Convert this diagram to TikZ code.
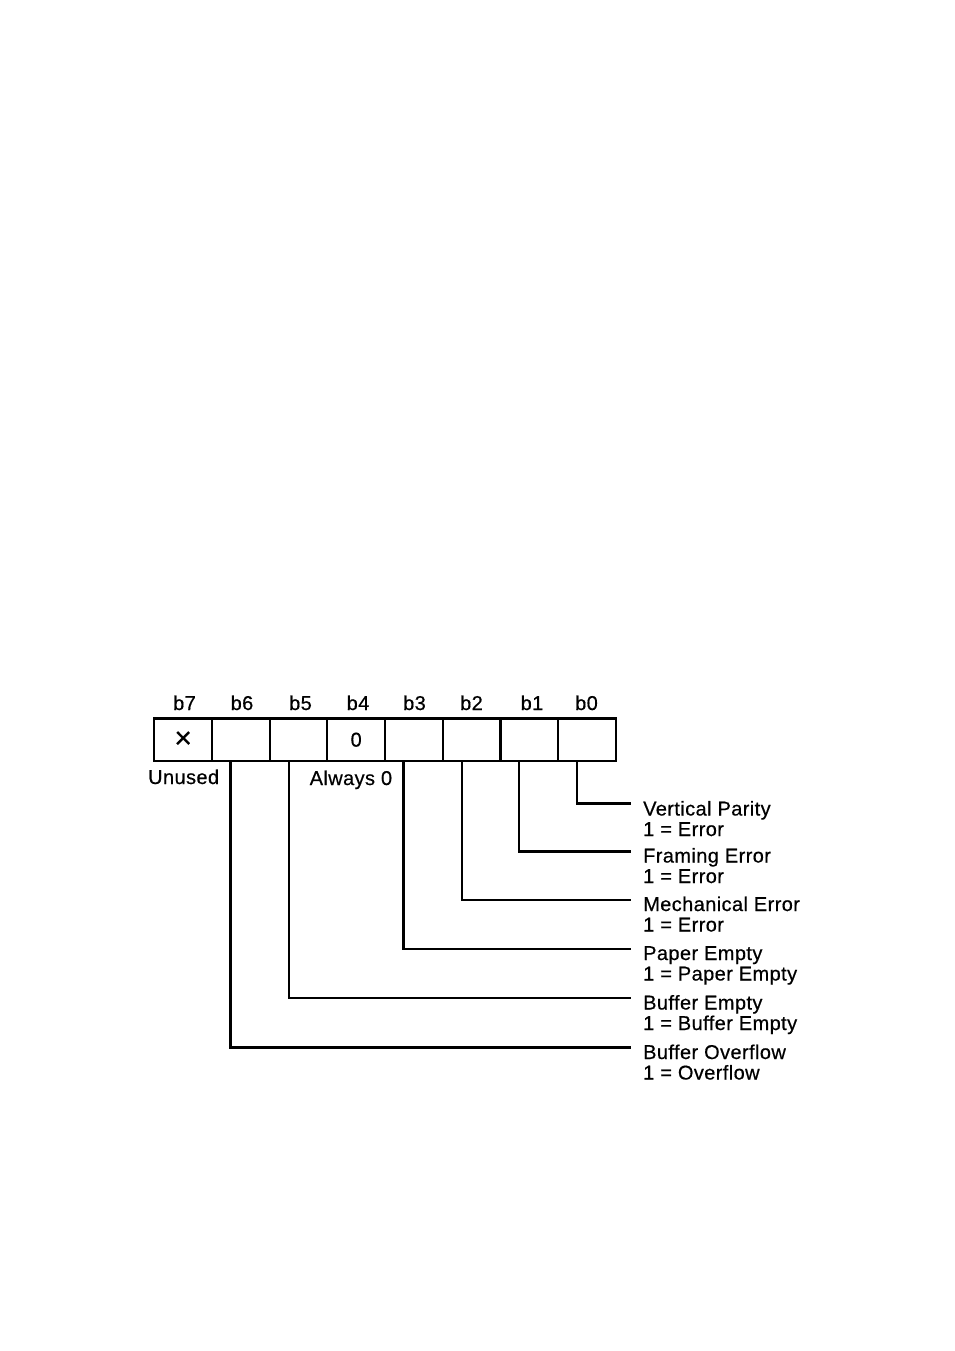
\documentclass[tikz,border=0pt]{standalone}
\usepackage{fontspec}
\setmainfont{Liberation Sans}[LetterSpace=2,FakeBold=0.5]
\usetikzlibrary{calc}
\begin{document}
\begin{tikzpicture}[x=1pt,y=-1pt,
  cell/.style={draw, line width=2.3pt, minimum width=57.675pt, minimum height=42.7pt, inner sep=0pt, outer sep=0pt, font=\fontsize{20}{24}\selectfont},
  lbl/.style={inner sep=0pt, font=\fontsize{20}{24}\selectfont},
  conn/.style={line width=2.1pt}]
\useasboundingbox (0,0) rectangle (954,1351);
% register cells
\node[cell] (c7) at (183.14,739.7) {\fontsize{30}{30}\selectfont ×};
\node[cell] (c6) at (240.81,739.7) {};
\node[cell] (c5) at (298.49,739.7) {};
\node[cell] (c4) at (356.16,739.7) {0};
\node[cell] (c3) at (413.84,739.7) {};
\node[cell] (c2) at (471.51,739.7) {};
\node[cell] (c1) at (529.19,739.7) {};
\node[cell] (c0) at (586.86,739.7) {};
% bit numbers
\node[lbl, anchor=base] (n7) at (184.5,710) {b7};
\node[lbl, anchor=base] (n6) at (242,710) {b6};
\node[lbl, anchor=base] (n5) at (300.5,710) {b5};
\node[lbl, anchor=base] (n4) at (358,710) {b4};
\node[lbl, anchor=base] (n3) at (414.5,710) {b3};
\node[lbl, anchor=base] (n2) at (471.5,710) {b2};
\node[lbl, anchor=base] (n1) at (532,710) {b1};
\node[lbl, anchor=base] (n0) at (586.5,710) {b0};
% notes under register
\node[lbl, anchor=base west] (unused) at (148,784) {Unused};
\node[lbl, anchor=base west] (always) at (309.5,785) {Always 0};
% connector end points
\coordinate (e0) at (631,803.5);
\coordinate (e1) at (631,851.5);
\coordinate (e2) at (631,900);
\coordinate (e3) at (631,949);
\coordinate (e5) at (631,998.3);
\coordinate (e6) at (631,1047.5);
% labels
\node[lbl, anchor=base west] (t0a) at (643,815.5) {Vertical Parity};
\node[lbl, anchor=base west] (t0b) at (643,836) {1 = Error};
\node[lbl, anchor=base west] (t1a) at (643,862.5) {Framing Error};
\node[lbl, anchor=base west] (t1b) at (643,883) {1 = Error};
\node[lbl, anchor=base west] (t2a) at (643,911) {Mechanical Error};
\node[lbl, anchor=base west] (t2b) at (643,931.5) {1 = Error};
\node[lbl, anchor=base west] (t3a) at (643,960) {Paper Empty};
\node[lbl, anchor=base west] (t3b) at (643,980.5) {1 = Paper Empty};
\node[lbl, anchor=base west] (t5a) at (643,1009.5) {Buffer Empty};
\node[lbl, anchor=base west] (t5b) at (643,1030) {1 = Buffer Empty};
\node[lbl, anchor=base west] (t6a) at (643,1059) {Buffer Overflow};
\node[lbl, anchor=base west] (t6b) at (643,1079.5) {1 = Overflow};
% connectors
\draw[conn] ($(c0.south west)+(19,0)$) |- (e0);
\draw[conn] ($(c1.south west)+(19,0)$) |- (e1);
\draw[conn] ($(c2.south west)+(19,0)$) |- (e2);
\draw[conn] ($(c3.south west)+(18.5,0)$) |- (e3);
\draw[conn] ($(c5.south west)+(19,0)$) |- (e5);
\draw[conn] ($(c6.south west)+(18.5,0)$) |- (e6);
\end{tikzpicture}
\end{document}
